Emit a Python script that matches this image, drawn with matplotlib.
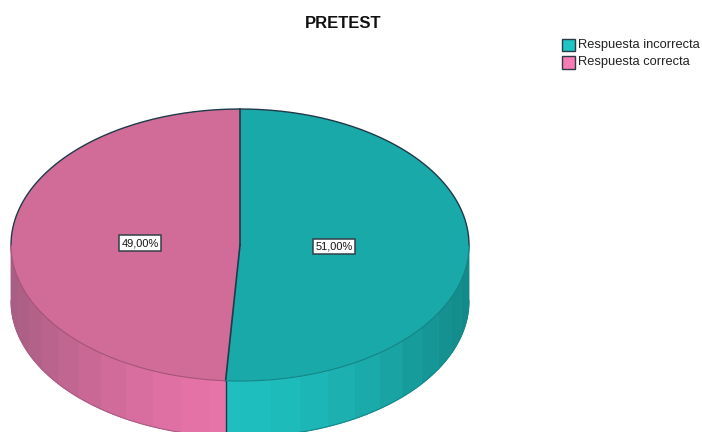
import numpy as np
import matplotlib
matplotlib.use("Agg")
import matplotlib.pyplot as plt
from matplotlib.colors import to_rgb
from matplotlib.patches import Rectangle

plt.rcParams["font.family"] = ["Liberation Sans", "DejaVu Sans"]

# Survey results
categories = ["Respuesta incorrecta", "Respuesta correcta"]
values = [51.0, 49.0]
value_labels = ["51,00%", "49,00%"]
title = "PRETEST"

top_colors = ["#19A9A9", "#D16C99"]
legend_colors = ["#1FC4C4", "#F77CB4"]
front_colors = ["#1FBFBF", "#EA74A9"]
edge_side_colors = ["#138888", "#A95D83"]
label_radii = [0.41, 0.437]

W, H = 702, 432
CX, CY, RX, RY = 240.0, 245.0, 229.0, 136.0
DEPTH = 56.0 / RY
FACET = 7.5
OUTLINE = "#1E3A48"

fig = plt.figure(figsize=(W / 100, H / 100), dpi=100)
ax = fig.add_axes([0, 0, 1, 1])


def blend(a, b, t):
    a, b = np.array(to_rgb(a)), np.array(to_rgb(b))
    return tuple(a + (b - a) * t)


# Rim of the disc: shaded facets along the visible front half
boundaries = np.cumsum([0.0] + values) / sum(values) * 360.0
for i in range(len(values)):
    lo, hi = max(boundaries[i], 90.0), min(boundaries[i + 1], 270.0)
    grid = np.arange(np.ceil(90.0 / FACET) * FACET, 270.0 + FACET, FACET)
    stops = np.concatenate(([lo], grid[(grid > lo) & (grid < hi)], [hi]))
    for a, b in zip(stops[:-1], stops[1:]):
        arc = np.radians(np.linspace(a, b, 8))
        xs, ys = np.sin(arc), np.cos(arc)
        px = np.concatenate((xs, xs[::-1]))
        py = np.concatenate((ys, ys[::-1] - DEPTH))
        shade = abs(np.sin(np.radians((a + b) / 2))) ** 1.6
        col = blend(front_colors[i], edge_side_colors[i], shade)
        ax.fill(px, py, color=col, lw=0.6, ec=col, zorder=1)
    # Lower silhouette of this part of the rim
    arc = np.radians(np.linspace(lo, hi, 80))
    ax.plot(np.sin(arc), np.cos(arc) - DEPTH,
            color=edge_side_colors[i], lw=0.8, zorder=2)

# Vertical seam of the rim between the two slices
seam = np.radians(boundaries[1])
ax.plot([np.sin(seam)] * 2, [np.cos(seam), np.cos(seam) - DEPTH],
        color=OUTLINE, lw=1.0, zorder=3)

# Upper face of the disc
wedges, _ = ax.pie(values, colors=top_colors, startangle=90, counterclock=False,
                   radius=1.0, wedgeprops={"linewidth": 0}, normalize=True)
for w in wedges:
    w.set_zorder(4)
ax.set_aspect("auto")

# Dark outline on the far half of the face and along the slice spokes
back = np.radians(np.linspace(-90, 90, 200))
ax.plot(np.sin(back), np.cos(back), color=OUTLINE, lw=1.0, zorder=5)
for b in boundaries[:2]:
    r = np.radians(b)
    ax.plot([0, np.sin(r)], [0, np.cos(r)], color=OUTLINE, lw=1.2, zorder=5)
for i in range(len(values)):
    lo, hi = max(boundaries[i], 90.0), min(boundaries[i + 1], 270.0)
    arc = np.radians(np.linspace(lo, hi, 80))
    ax.plot(np.sin(arc), np.cos(arc), lw=0.8, zorder=5,
            color=blend(top_colors[i], "#000000", 0.22))

# Percentage labels in small white boxes
for i, text in enumerate(value_labels):
    mid = np.radians((boundaries[i] + boundaries[i + 1]) / 2)
    ax.text(label_radii[i] * np.sin(mid), label_radii[i] * np.cos(mid), text,
            ha="center", va="center", fontsize=7.9, color="#111111", zorder=6,
            bbox=dict(boxstyle="square,pad=0.24", fc="white",
                      ec="#333f48", lw=1.1))

ax.set_xlim(-CX / RX, (W - CX) / RX)
ax.set_ylim(-(H - CY) / RY, CY / RY)
ax.set_xticks([])
ax.set_yticks([])
ax.set_frame_on(False)

# Title and legend placed in figure pixels
fig.text(343 / W, 1 - 24 / H, title, ha="center", va="center",
         fontsize=12, fontweight="bold", color="#111111")
for i, (name, y) in enumerate(zip(categories, [45, 62.5])):
    fig.add_artist(Rectangle((562 / W, 1 - (y + 6) / H), 13 / W, 12 / H,
                             transform=fig.transFigure, fc=legend_colors[i],
                             ec="#2A3A44", lw=1.0))
    fig.text(578 / W, 1 - y / H, name, ha="left", va="center",
             fontsize=9.3, color="#222222")

fig.savefig("out.png", dpi=100, facecolor="white")
